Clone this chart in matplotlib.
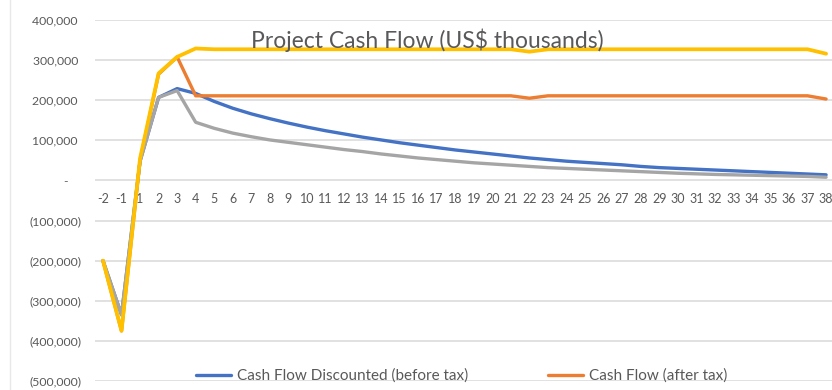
import numpy as np
import matplotlib.pyplot as plt
from matplotlib.lines import Line2D
from matplotlib.ticker import FuncFormatter

plt.rcParams['font.family'] = ['Lato', 'DejaVu Sans']

# project years (no year 0)
years = ['-2', '-1'] + [str(y) for y in range(1, 39)]

# cash flows, US$ thousands (read in units of 1,000)
disc_before_tax = [-200, -335, 48, 207, 229, 217, 197, 180, 166, 154,
                   143, 133, 124, 116, 108, 101, 94, 88, 82, 76,
                   71, 66, 61, 56, 52, 48, 45, 42, 39, 35,
                   32, 30, 28, 26, 24, 22, 20, 18, 16, 14]
after_tax = [-200, -375, 50, 265, 308, 211, 211, 211, 211, 211,
             211, 211, 211, 211, 211, 211, 211, 211, 211, 211,
             211, 211, 211, 205, 211, 211, 211, 211, 211, 211,
             211, 211, 211, 211, 211, 211, 211, 211, 211, 203]
disc_after_tax = [-200, -335, 48, 207, 224, 145, 130, 118, 109, 101,
                  95, 89, 83, 77, 72, 66, 61, 56, 52, 48,
                  44, 41, 38, 35, 32, 30, 28, 26, 24, 22,
                  20, 18, 16.5, 15, 14, 13, 12, 11, 10, 8]
before_tax = [-200, -375, 55, 267, 308, 329, 327, 327, 327, 327,
              327, 327, 327, 327, 327, 327, 327, 327, 327, 327,
              327, 327, 327, 321, 327, 327, 327, 327, 327, 327,
              327, 327, 327, 327, 327, 327, 327, 327, 327, 316]

series = [
    ('Cash Flow Discounted (before tax)', disc_before_tax, '#4472C4', 2.4),
    ('Cash Flow (after tax)', after_tax, '#ED7D31', 2.4),
    ('Cash Flow Discounted (after tax)', disc_after_tax, '#A5A5A5', 2.4),
    ('Cash Flow (before tax)', before_tax, '#FFC000', 2.7),
]

fig = plt.figure(figsize=(8.32, 3.9), dpi=100)
ax = fig.add_axes([95/832, 9/390, 737/832, 361/390])

x = np.arange(len(years))
handles = []
for name, vals, col, w in series:
    ln, = ax.plot(x, np.array(vals) * 1000, color=col, lw=w, label=name,
                  solid_joinstyle='round', solid_capstyle='round')
    handles.append(ln)

ax.set_ylim(-500000, 400000)
ax.set_yticks(np.arange(-500000, 400001, 100000))
ax.set_xlim(-0.43, 39.32)
ax.set_xticks(x)
ax.set_xticklabels(years)


def acct(v, pos):
    if v == 0:
        return '-    '
    if v < 0:
        return '({:,.0f})'.format(-v)
    return '{:,.0f} '.format(v)


ax.yaxis.set_major_formatter(FuncFormatter(acct))
ax.grid(axis='y', color='#D9D9D9', lw=1.1)
ax.set_axisbelow(True)
for s in ['top', 'right', 'left']:
    ax.spines[s].set_visible(False)
ax.spines['bottom'].set_position(('data', 0))
ax.spines['bottom'].set_visible(False)
ax.tick_params(axis='x', length=0, pad=9, labelsize=9, labelcolor='#595959')
ax.tick_params(axis='y', length=0, pad=10, labelsize=8.8, labelcolor='#595959')

fig.text(0.513, 0.897, 'Project Cash Flow (US$ thousands)', ha='center',
         va='center', fontsize=16.5, color='#595959', zorder=10)

ax.legend(handles=[handles[0], handles[1]], loc='center',
          bbox_to_anchor=(462/832, 14/390), bbox_transform=fig.transFigure,
          ncol=2, frameon=False, fontsize=11, handlelength=2.3,
          handletextpad=0.4, columnspacing=5.2, labelcolor='#595959')

fig.add_artist(Line2D([10/832, 10/832], [0, 1], color='#E8E8E8', lw=1))

fig.savefig('out.png', dpi=100)
